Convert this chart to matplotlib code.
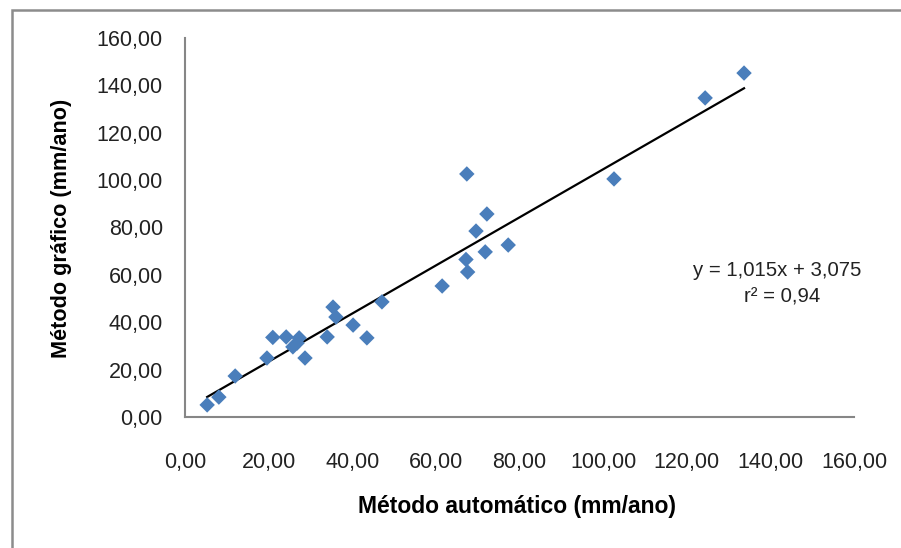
import numpy as np
import matplotlib
matplotlib.use("Agg")
import matplotlib.pyplot as plt
from matplotlib.patches import Rectangle

plt.rcParams["font.family"] = ["Liberation Sans", "DejaVu Sans"]

# dados
metodo_automatico = [5.3, 8.1, 12.0, 19.6, 21.0, 24.2, 25.8, 26.8, 27.3, 28.7,
                     34.0, 35.4, 36.1, 40.2, 43.5, 47.1, 61.5, 67.4, 67.2, 67.6,
                     69.6, 72.2, 71.8, 77.3, 102.6, 124.4, 133.7]
metodo_grafico = [5.1, 8.4, 17.3, 24.9, 33.6, 33.8, 29.6, 31.2, 33.4, 24.9,
                  33.8, 46.4, 42.2, 38.8, 33.4, 48.6, 55.3, 102.6, 66.5, 61.2,
                  78.5, 85.7, 69.7, 72.6, 100.5, 134.7, 145.2]
coef_ajuste = [1.015, 3.075]   # inclinação, intercepto
r2 = 0.94
ticks = [0, 20, 40, 60, 80, 100, 120, 140, 160]

W, H = 901, 548
fig = plt.figure(figsize=(W / 100, H / 100), dpi=100)
ax = fig.add_axes([185 / W, 1 - 417 / H, (854 - 185) / W, (417 - 38) / H])

ax.scatter(metodo_automatico, metodo_grafico, marker="D", s=62,
           color="#4A7EBB", edgecolor="none", zorder=3)

xs = np.array([min(metodo_automatico), max(metodo_automatico)])
ax.plot(xs, coef_ajuste[0] * xs + coef_ajuste[1], color="black", lw=1.6, zorder=2)

ax.set_xlim(0, 160)
ax.set_ylim(0, 160)
ax.set_xticks(ticks)
ax.set_yticks(ticks)
fmt = lambda v: f"{v:.2f}".replace(".", ",")
ax.set_xticklabels([fmt(t) for t in ticks])
ax.set_yticklabels([fmt(t) for t in ticks])
ax.tick_params(length=0, labelsize=15.5, colors="#222222")
ax.tick_params(axis="y", pad=16)
ax.tick_params(axis="x", pad=25)
for s in ["top", "right"]:
    ax.spines[s].set_visible(False)
for s in ["left", "bottom"]:
    ax.spines[s].set_color("#868686")
    ax.spines[s].set_linewidth(1.5)

eq = f"y = {coef_ajuste[0]:.3f}x + {coef_ajuste[1]:.3f}".replace(".", ",")
fig.text(777 / W, 1 - 270 / H, eq, ha="center", va="center", fontsize=14.7, color="#222222")
fig.text(782 / W, 1 - 297 / H, f"r² = {r2:.2f}".replace(".", ","),
         ha="center", va="center", fontsize=14.7, color="#222222")

fig.text(517 / W, 1 - 507 / H, "Método automático (mm/ano)", ha="center", va="center",
         fontsize=16.5, fontweight="bold")
fig.text(62 / W, 1 - 228 / H, "Método gráfico (mm/ano)", ha="center", va="center",
         rotation=90, fontsize=15.6, fontweight="bold")

# moldura do gráfico (cortada à direita e em baixo)
fig.patches.append(Rectangle((12 / W, -0.1), 1.2, 1 - 10 / H + 0.1, transform=fig.transFigure,
                             fill=False, edgecolor="#8c8c8c", lw=1.8))

fig.savefig("out.png", dpi=100)
